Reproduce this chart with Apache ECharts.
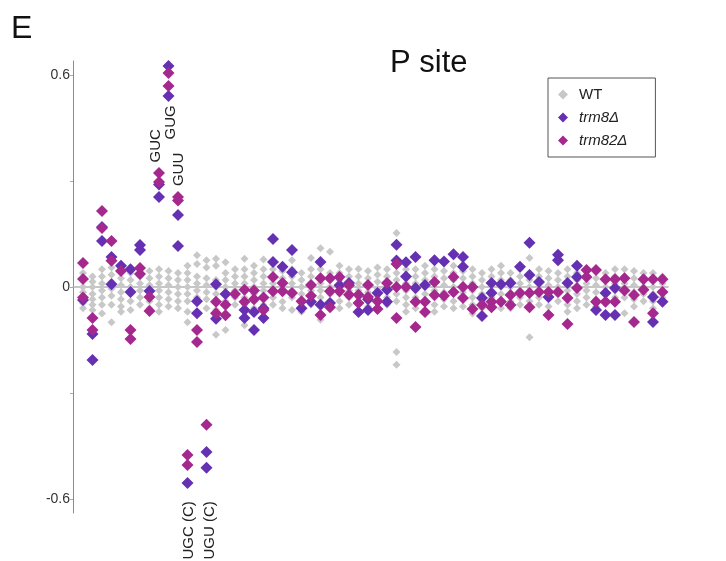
<!DOCTYPE html>
<html>
<head>
<meta charset="utf-8">
<script src="https://cdn.jsdelivr.net/npm/echarts@6/dist/echarts.min.js"></script>
<style>
  html, body { margin: 0; padding: 0; background: #fff; }
  #main { width: 726px; height: 561px; }
</style>
</head>
<body>
<div id="main"></div>
<script>
  // one entry per codon column
  const wt = [
    [0.04, 0.02, 0.0, -0.015, -0.03, -0.045, -0.06],
    [0.03, 0.015, 0.0, -0.02, -0.035, -0.05, -0.065],
    [0.05, 0.03, 0.01, -0.01, -0.03, -0.05, -0.075],
    [0.055, 0.035, 0.015, -0.005, -0.025, -0.05, -0.1],
    [0.045, 0.025, 0.005, -0.015, -0.035, -0.055, -0.07],
    [0.04, 0.02, 0.0, -0.02, -0.04, -0.065],
    [0.05, 0.03, 0.01, -0.01, -0.03, -0.05],
    [0.045, 0.025, 0.005, -0.015, -0.04, -0.06],
    [0.05, 0.03, 0.01, -0.01, -0.03, -0.05, -0.07],
    [0.045, 0.025, 0.005, -0.015, -0.035, -0.055],
    [0.04, 0.02, 0.0, -0.02, -0.04, -0.06],
    [0.06, 0.04, 0.02, 0.0, -0.02, -0.04, -0.07, -0.1],
    [0.09, 0.065, 0.03, 0.01, -0.01, -0.03],
    [0.076, 0.055, 0.025, 0.005, -0.015, -0.035, -0.06],
    [0.08, 0.06, 0.02, 0.0, -0.02, -0.045, -0.065, -0.135],
    [0.07, 0.04, 0.02, 0.0, -0.02, -0.04, -0.122],
    [0.05, 0.03, 0.01, -0.01, -0.03, -0.05],
    [0.08, 0.05, 0.03, 0.01, -0.01, -0.03, -0.05, -0.108],
    [0.06, 0.04, 0.02, 0.0, -0.02, -0.04, -0.06],
    [0.078, 0.05, 0.03, 0.01, -0.01, -0.03, -0.05],
    [0.05, 0.03, 0.01, -0.01, -0.03, -0.05],
    [0.045, 0.025, 0.005, -0.015, -0.042, -0.06],
    [0.076, 0.05, 0.03, 0.01, -0.01, -0.03, -0.065],
    [0.04, 0.02, 0.0, -0.02, -0.045, -0.07],
    [0.082, 0.05, 0.03, 0.01, -0.01, -0.03, -0.05],
    [0.11, 0.05, 0.03, 0.01, -0.01, -0.03, -0.05, -0.093],
    [0.1, 0.04, 0.02, 0.0, -0.02, -0.04],
    [0.06, 0.04, 0.02, 0.0, -0.02, -0.04, -0.06],
    [0.05, 0.03, 0.01, -0.01, -0.03, -0.05],
    [0.051, 0.03, 0.01, -0.01, -0.03, -0.05, -0.07],
    [0.045, 0.025, 0.005, -0.015, -0.035, -0.055],
    [0.055, 0.035, 0.015, -0.005, -0.025, -0.045],
    [0.05, 0.03, 0.01, -0.01, -0.03, -0.05],
    [0.153, 0.06, 0.04, 0.02, 0.0, -0.02, -0.04, -0.184, -0.22],
    [0.05, 0.03, 0.01, -0.01, -0.03, -0.05, -0.07],
    [0.05, 0.03, 0.01, -0.01, -0.03, -0.06],
    [0.06, 0.04, 0.02, 0.0, -0.02, -0.04],
    [0.05, 0.03, 0.01, -0.01, -0.03, -0.05, -0.07],
    [0.045, 0.025, 0.005, -0.015, -0.035, -0.055],
    [0.06, 0.04, 0.02, 0.0, -0.02, -0.04, -0.06],
    [0.045, 0.025, 0.005, -0.015, -0.035, -0.055],
    [0.05, 0.03, 0.01, -0.01, -0.03, -0.05, -0.075],
    [0.04, 0.02, 0.0, -0.02, -0.04, -0.06],
    [0.05, 0.03, 0.01, -0.01, -0.03, -0.05],
    [0.06, 0.04, 0.02, 0.0, -0.02, -0.04, -0.06],
    [0.04, 0.02, 0.0, -0.02, -0.04, -0.06],
    [0.05, 0.03, 0.01, -0.01, -0.03, -0.05],
    [0.082, 0.04, 0.02, 0.0, -0.02, -0.04, -0.142],
    [0.05, 0.03, 0.01, -0.01, -0.03, -0.05],
    [0.045, 0.025, 0.005, -0.015, -0.035, -0.055],
    [0.04, 0.02, 0.0, -0.02, -0.04],
    [0.05, 0.03, 0.01, -0.01, -0.03, -0.05, -0.07],
    [0.04, 0.02, 0.0, -0.02, -0.04, -0.06],
    [0.05, 0.03, 0.01, -0.01, -0.03, -0.05],
    [0.045, 0.025, 0.005, -0.015, -0.035, -0.055],
    [0.04, 0.02, 0.0, -0.02, -0.04],
    [0.05, 0.03, 0.01, -0.01, -0.03],
    [0.05, 0.03, 0.01, -0.01, -0.03, -0.074],
    [0.045, 0.025, 0.005, -0.015, -0.035, -0.055],
    [0.04, 0.02, 0.0, -0.02, -0.04],
    [0.04, 0.02, 0.0, -0.02, -0.04, -0.06],
    [0.03, 0.01, -0.01, -0.03]
  ]

  const trm8 = [
    [-0.037], [-0.133, -0.207], [0.17, 0.13], [0.085, 0.008], [0.06],
    [0.05, -0.014], [0.119, 0.105], [-0.011], [0.255, 0.29], [0.626, 0.541],
    [0.204, 0.116], [-0.555], [-0.04, -0.074], [-0.467, -0.512], [0.008, -0.09],
    [-0.02], [], [-0.065, -0.088], [-0.071, -0.122], [-0.06, -0.088],
    [0.136, 0.071], [0.057], [0.105, 0.042], [-0.06], [-0.042],
    [0.071, -0.05], [-0.045], [0.005], [0.011], [-0.071],
    [-0.035, -0.065], [-0.017], [-0.008, -0.042], [0.12, 0.075], [0.07, 0.03],
    [0.085, -0.003], [0.006], [0.076], [0.072], [0.093],
    [0.085, 0.057], [], [-0.031, -0.082], [0.011, -0.017], [0.008],
    [0.011], [0.057], [0.125, 0.034], [0.014], [-0.028],
    [0.091, 0.076], [0.011], [0.06, 0.028], [], [-0.065],
    [-0.017, -0.079], [-0.003, -0.079], [], [], [],
    [-0.028, -0.099], [-0.042]
  ]

  const trm82 = [
    [0.068, 0.023, -0.03], [-0.088, -0.122], [0.215, 0.167], [0.13, 0.074], [0.045],
    [-0.122, -0.147], [0.054, 0.037], [-0.028, -0.068], [0.323, 0.297], [0.606, 0.569],
    [0.255, 0.245], [-0.476, -0.504], [-0.122, -0.156], [-0.39], [-0.042, -0.074],
    [-0.05, -0.08], [-0.02], [-0.008, -0.042], [-0.01, -0.035], [-0.03, -0.065],
    [0.028, -0.012], [0.011, -0.012], [-0.017], [-0.04], [0.006, -0.025],
    [0.025, -0.079], [0.025, -0.012, -0.057], [0.028, -0.012], [0.005, -0.022], [-0.022, -0.045],
    [0.006, -0.028], [-0.04, -0.062], [0.011], [0.065, 0.0, -0.088], [0.0],
    [-0.042, -0.113], [-0.042, -0.071], [0.014, -0.023], [-0.025], [0.028, -0.014],
    [0.0, -0.031], [0.0, -0.062], [-0.051], [-0.042, -0.057], [-0.042],
    [-0.023, -0.051], [-0.017], [-0.017, -0.057], [-0.014], [-0.014, -0.079],
    [-0.014], [-0.031, -0.105], [-0.003], [0.048, 0.028], [0.048, -0.042],
    [0.022, -0.042], [0.022, -0.042], [0.025, -0.01], [-0.023, -0.099], [0.022, -0.008],
    [0.022, -0.074], [0.022, -0.014]
  ]

  // codon callouts: text, column it belongs to, value where the text sits
  const calloutText = ['GUC', 'GUG', 'GUU', 'UGC (C)', 'UGU (C)']
  const calloutCol = [7.65, 9.3, 10.1, 11.15, 13.35]
  const calloutVal = [0.4, 0.466, 0.333, -0.689, -0.689]

  const yTicks = [-0.6, -0.3, 0, 0.3, 0.6]
  const yLabels = [-0.6, 0, 0.6]

  const FONT = 'Liberation Sans, Arial, sans-serif'

  function toPoints (cols) {
    let pts = []
    cols.forEach((vals, i) => vals.forEach(v => pts.push([i, v])))
    return pts
  }

  const chart = echarts.init(document.getElementById('main'))

  const option = {
    animation: false,
    textStyle: { fontFamily: FONT },
    grid: { left: 73, top: 61, width: 595, height: 452 },
    legend: {
      orient: 'vertical',
      left: 548,
      top: 78,
      padding: [9, 28, 9, 10],
      itemGap: 8,
      itemWidth: 10,
      itemHeight: 10,
      borderColor: '#555',
      borderWidth: 1,
      data: ['WT', 'trm8Δ', 'trm82Δ'],
      formatter: name => name === 'WT' ? '{n|' + name + '}' : '{i|' + name + '}',
      textStyle: {
        fontSize: 15,
        lineHeight: 15,
        color: '#222',
        rich: {
          n: { fontSize: 15, color: '#222', padding: [0, 0, 0, 6] },
          i: { fontSize: 15, color: '#222', fontStyle: 'italic', padding: [0, 0, 0, 6] }
        }
      }
    },
    xAxis: {
      type: 'value',
      min: -1.05,
      max: 61.58,
      axisLine: { onZero: true, lineStyle: { color: '#b4b4b4', width: 1.5 } },
      axisTick: { show: false },
      axisLabel: { show: false },
      splitLine: { show: false }
    },
    yAxis: {
      type: 'value',
      min: -0.64,
      max: 0.64,
      axisLine: { show: true, onZero: false, lineStyle: { color: '#8c8c8c' } },
      axisTick: { show: true, customValues: yTicks, length: 3, lineStyle: { color: '#aaa' } },
      axisLabel: {
        customValues: yLabels,
        formatter: v => v === 0 ? '0' : String(v),
        margin: 3,
        fontSize: 14,
        color: '#333'
      },
      splitLine: { show: false }
    },
    series: [
      {
        name: 'WT',
        type: 'scatter',
        symbol: 'diamond',
        symbolSize: 8,
        itemStyle: { color: '#c8c8c8', opacity: 1 },
        data: toPoints(wt)
      },
      {
        name: 'trm8Δ',
        type: 'scatter',
        symbol: 'diamond',
        symbolSize: 12,
        itemStyle: { color: '#6630b2', opacity: 1 },
        data: toPoints(trm8)
      },
      {
        name: 'trm82Δ',
        type: 'scatter',
        symbol: 'diamond',
        symbolSize: 12,
        itemStyle: { color: '#a5288e', opacity: 1 },
        data: toPoints(trm82)
      }
    ],
    graphic: [
      { type: 'text', left: 11, top: 13, style: { text: 'E', font: '32px ' + FONT, fill: '#111' } },
      { type: 'text', left: 390, top: 48, style: { text: 'P site', font: '31px ' + FONT, fill: '#111' } }
    ]
  }

  chart.setOption(option)

  // place the codon callouts through the axes
  const callouts = calloutText.map((t, k) => {
    const p = chart.convertToPixel({ gridIndex: 0 }, [calloutCol[k], calloutVal[k]])
    return {
      type: 'text',
      x: p[0],
      y: p[1],
      rotation: Math.PI / 2,
      style: {
        text: t,
        font: '15px ' + FONT,
        fill: '#222',
        align: 'center',
        verticalAlign: 'middle'
      }
    }
  })
  chart.setOption({ graphic: option.graphic.concat(callouts) })
</script>
</body>
</html>
